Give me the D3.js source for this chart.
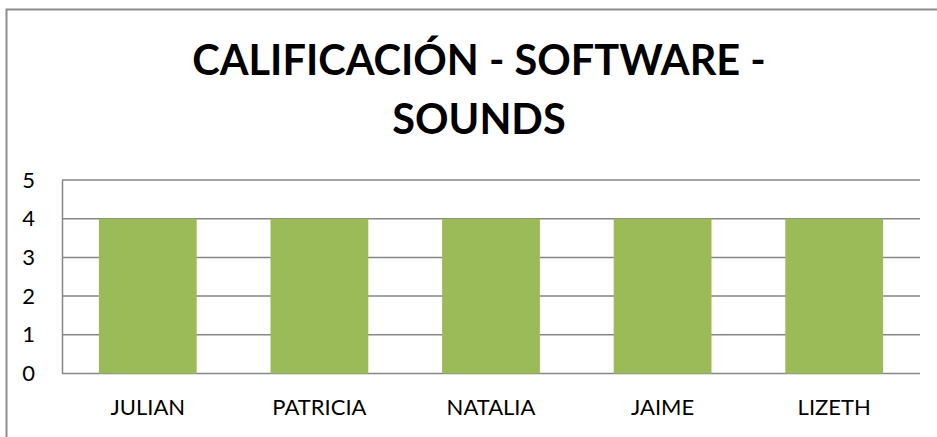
<!DOCTYPE html>
<html>
<head>
  <meta charset="utf-8">
  <script src="https://cdnjs.cloudflare.com/ajax/libs/d3/7.8.5/d3.min.js"></script>
  <style>
    body { margin: 0; padding: 0; background: #fff; }
    text { font-family: Lato, "Open Sans", sans-serif; fill: #000; }
  </style>
</head>
<body>
  <svg width="937" height="437"></svg>
  <script>
    // chart data
    let names = ["JULIAN", "PATRICIA", "NATALIA", "JAIME", "LIZETH"];
    let scores = [4, 4, 4, 4, 4];
    let yTicks = [0, 1, 2, 3, 4, 5];
    let titleLines = ["CALIFICACIÓN - SOFTWARE -", "SOUNDS"];

    let svg = d3.select("svg"),
      margin = { top: 180, right: 17, bottom: 63.5, left: 62 },
      width = 937 - margin.left - margin.right,
      height = 437 - margin.top - margin.bottom,
      g = svg.append("g").attr("transform", "translate(" + margin.left + "," + margin.top + ")");

    //outer frame (only top and left are visible in the picture)
    svg.append("rect")
      .attr("x", 6.5).attr("y", 9.5)
      .attr("width", 960).attr("height", 460)
      .attr("fill", "none")
      .attr("stroke", "#8c8c8c")
      .attr("stroke-width", 2);

    //scales
    let x = d3.scaleBand().domain(names).range([0, width])
      .paddingInner(0.43).paddingOuter(0.215);
    let y = d3.scaleLinear().domain([0, 5]).range([height, 0]);

    //grid lines
    g.selectAll(".grid")
      .data(yTicks)
      .enter().append("line")
      .attr("class", "grid")
      .attr("x1", 0).attr("x2", width)
      .attr("y1", d => y(d)).attr("y2", d => y(d))
      .attr("stroke", "#868686")
      .attr("stroke-width", 1.5);

    //bars
    g.selectAll(".bar")
      .data(names)
      .enter().append("rect")
      .attr("class", "bar")
      .attr("x", d => x(d))
      .attr("width", x.bandwidth())
      .attr("y", (d, i) => y(scores[i]))
      .attr("height", (d, i) => y(0) - y(scores[i]))
      .attr("fill", "#9bbb59");

    //y axis
    let yAxis = g.append("g")
      .call(d3.axisLeft(y).tickValues(yTicks).tickSize(0).tickPadding(27).tickFormat(d3.format("d")));
    yAxis.select(".domain").attr("stroke", "#868686").attr("stroke-width", 1.5);
    yAxis.selectAll("text").style("font-size", "22px").attr("fill", "#000");

    //x axis
    let xAxis = g.append("g")
      .attr("transform", "translate(0," + height + ")")
      .call(d3.axisBottom(x).tickSize(0).tickPadding(26));
    xAxis.select(".domain").remove();
    xAxis.selectAll("text").style("font-size", "22px").attr("fill", "#000");

    //title
    svg.selectAll(".title")
      .data(titleLines)
      .enter().append("text")
      .attr("class", "title")
      .attr("x", 479)
      .attr("y", (d, i) => 74.5 + i * 59)
      .attr("text-anchor", "middle")
      .style("font-size", "41.5px")
      .style("font-weight", "bold")
      .text(d => d);
  </script>
</body>
</html>
